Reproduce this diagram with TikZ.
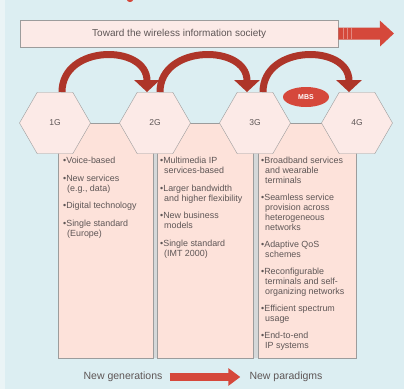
\documentclass[tikz,border=0pt]{standalone}
\usepackage{fontspec}
\setmainfont{Liberation Sans}
\usetikzlibrary{arrows.meta,shapes.geometric}
\definecolor{bgblue}{HTML}{DCEEF2}
\definecolor{leftstrip}{HTML}{EAF4F6}
\definecolor{pinkfill}{HTML}{FCEAE7}
\definecolor{colfill}{HTML}{FDE2DA}
\definecolor{edgegray}{HTML}{9C9C9C}
\definecolor{gapgray}{HTML}{D5D8D9}
\definecolor{arcred}{HTML}{AE3529}
\definecolor{brightred}{HTML}{D5483B}
\definecolor{txtgray}{HTML}{5E5656}
\tikzset{
  hexa/.style={regular polygon, regular polygon sides=6, minimum size=71pt, inner sep=0pt,
    draw=edgegray, fill=pinkfill, text=txtgray, font=\fontsize{8.5}{10}\selectfont},
  colbox/.style={draw=edgegray, fill=colfill, line width=0.8pt},
  coltext/.style={anchor=north west, align=left, inner sep=0pt, text=txtgray,
    font=\fontsize{8.9}{10}\selectfont},
  bigarc/.style={draw=arcred, line width=7pt, -{Triangle[width=25pt,length=12pt]}},
  labtext/.style={text=txtgray, font=\fontsize{10.5}{12}\selectfont, inner sep=0pt}
}
\begin{document}
\begin{tikzpicture}[x=1pt,y=-1pt]
\useasboundingbox (0,0) rectangle (404,389);
% background
\fill[bgblue] (0,0) rectangle (404,389);
\fill[leftstrip] (0,0) rectangle (5,389);
\fill[brightred] (130,0) ellipse (3pt and 2pt);
% banner and arrow
\node[draw=edgegray, fill=pinkfill, minimum width=318pt, minimum height=27pt, anchor=north west,
  inner sep=0pt, text=txtgray, font=\fontsize{10}{12}\selectfont] (banner) at (20,20)
  {Toward the wireless information society};
\coordinate (tb) at (394,33.5);
\draw[brightred, line width=12pt, -{Triangle[width=25pt,length=14pt]}] (banner.east) -- (tb);
\foreach \xx in {343,347,351} \draw[white, opacity=0.35, line width=1pt] (\xx,28) -- (\xx,39);
% columns
\fill[gapgray] (153,123) rectangle (157,358);
\fill[gapgray] (253,123) rectangle (258,358);
\draw[colbox] (58,123) rectangle (153,358);
\draw[colbox] (157,123) rectangle (253,358);
\draw[colbox] (258,123) rectangle (356,358);
% hexagons
\node[hexa] (h1) at (55,123) {1G};
\node[hexa] (h2) at (155,123) {2G};
\node[hexa] (h3) at (255,123) {3G};
\node[hexa] (h4) at (357,123) {4G};
% curved arrows
\draw[bigarc] ([xshift=7pt]h1.north) .. controls +(0,-48) and +(0,-48) .. ([xshift=-8pt]h2.north);
\draw[bigarc] ([xshift=5pt]h2.north) .. controls +(0,-48) and +(0,-48) .. ([xshift=-8pt]h3.north);
\draw[bigarc] ([xshift=8pt]h3.north) .. controls +(0,-48) and +(0,-48) .. ([xshift=-8pt]h4.north);
% MBS
\node[ellipse, fill=brightred, minimum width=46pt, minimum height=20pt, inner sep=0pt,
  text=white, font=\bfseries\fontsize{7}{8}\selectfont] (mbs) at (306,97) {MBS};
% column texts
\node[coltext] (t1) at (63,157) {%
•Voice-based\\[7.5pt]
•New services\\
\hspace{4pt}(e.g., data)\\[7.5pt]
•Digital technology\\[7.5pt]
•Single standard\\
\hspace{4pt}(Europe)};
\node[coltext] (t2) at (160,157) {%
•Multimedia IP\\
\hspace{4pt}services-based\\[7.5pt]
•Larger bandwidth\\
\hspace{4pt}and higher flexibility\\[7.5pt]
•New business\\
\hspace{4pt}models\\[7.5pt]
•Single standard\\
\hspace{4pt}(IMT 2000)};
\node[coltext] (t3) at (261,157) {%
•Broadband services\\
\hspace{4pt}and wearable\\
\hspace{4pt}terminals\\[7pt]
•Seamless service\\
\hspace{4pt}provision across\\
\hspace{4pt}heterogeneous\\
\hspace{4pt}networks\\[7pt]
•Adaptive QoS\\
\hspace{4pt}schemes\\[7pt]
•Reconfigurable\\
\hspace{4pt}terminals and self-\\
\hspace{4pt}organizing networks\\[7pt]
•Efficient spectrum\\
\hspace{4pt}usage\\[7pt]
•End-to-end\\
\hspace{4pt}IP systems};
% bottom
\node[labtext] (ng) at (123,377) {New generations};
\node[labtext] (np) at (286,377) {New paradigms};
\draw[brightred, line width=8pt, -{Triangle[width=17pt,length=12pt]}] ([xshift=7pt]ng.east) -- ([xshift=-9pt]np.west);
\end{tikzpicture}
\end{document}
